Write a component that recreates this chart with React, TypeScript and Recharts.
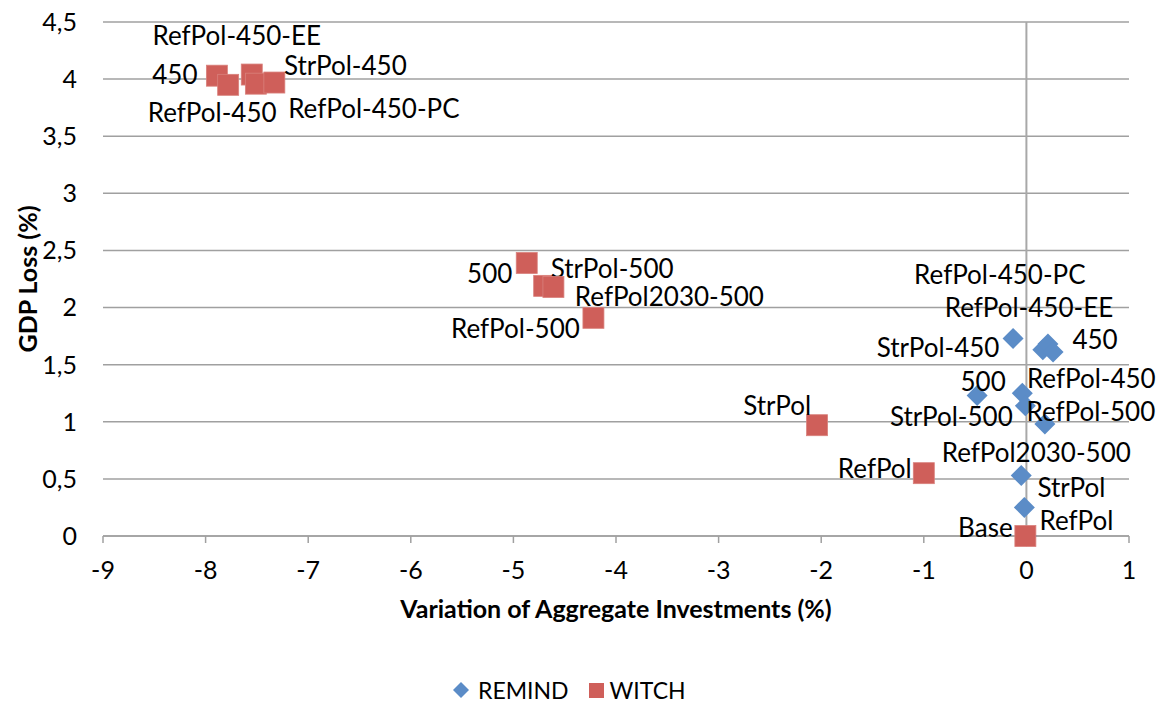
import React from 'react';
import { ScatterChart, Scatter, XAxis, YAxis, CartesianGrid, ReferenceLine } from 'recharts';

// REMIND scenarios
const remindNames = ['StrPol-450', 'RefPol-450-PC', 'RefPol-450-EE', '450', '500', 'RefPol-450', 'StrPol-500', 'RefPol-500', 'RefPol2030-500', 'StrPol', 'RefPol'];
const remindInvest = [-0.13, 0.16, 0.21, 0.26, -0.48, -0.04, -0.01, 0.18, -0.05, -0.02, 0.0];
const remindGdpLoss = [1.73, 1.63, 1.68, 1.61, 1.23, 1.25, 1.14, 0.98, 0.53, 0.25, 0.0];

// WITCH scenarios
const witchNames = ['450', 'RefPol-450', 'RefPol-450-EE', 'RefPol-450-PC', 'StrPol-450', '500', 'StrPol-500', 'RefPol2030-500', 'RefPol-500', 'StrPol', 'RefPol', 'Base'];
const witchInvest = [-7.89, -7.78, -7.55, -7.51, -7.33, -4.87, -4.7, -4.61, -4.22, -2.04, -1.0, -0.01];
const witchGdpLoss = [4.03, 3.95, 4.04, 3.96, 3.97, 2.39, 2.19, 2.18, 1.91, 0.97, 0.55, 0.0];

const xTicks = [-9, -8, -7, -6, -5, -4, -3, -2, -1, 0, 1];
const yTicks = [0, 0.5, 1, 1.5, 2, 2.5, 3, 3.5, 4, 4.5];

// where each data label sits relative to its marker (label placement only)
const remindLabelPos: Record<string, [number, number]> = {
  'StrPol-450': [-75, 9],
  'RefPol-450-PC': [-43, -76],
  'RefPol-450-EE': [-19, -37],
  '450': [42, -13],
  '500': [6, -15],
  'RefPol-450': [69, -15],
  'StrPol-500': [-74, 10],
  'RefPol-500': [46, -13],
  'RefPol2030-500': [15, -23],
  'StrPol': [47, -20],
  'RefPol': [50, -16],
};
const witchLabelPos: Record<string, [number, number]> = {
  '450': [-42, -2],
  'RefPol-450': [-16, 27],
  'RefPol-450-EE': [-15, -40],
  'RefPol-450-PC': [118, 24],
  'StrPol-450': [71, -18],
  '500': [-37, 10],
  'StrPol-500': [68, -18],
  'RefPol2030-500': [116, 9],
  'RefPol-500': [-78, 10],
  'StrPol': [-40, -20],
  'RefPol': [-49, -5],
  'Base': [-40, -9],
};

const remindData = remindNames.map((name, i) => ({ name, x: remindInvest[i], y: remindGdpLoss[i] }));
const witchData = witchNames.map((name, i) => ({ name, x: witchInvest[i], y: witchGdpLoss[i] }));

const BLUE = '#5B8CC7';
const RED = '#CF5F5A';
const FONT = 'Lato, "Open Sans", sans-serif';
const GRID = '#a0a0a0';

const labelText = (cx: number, cy: number, name: string, pos: Record<string, [number, number]>) => {
  const [dx, dy] = pos[name] || [0, 0];
  return (
    <text x={cx + dx} y={cy + dy} textAnchor="middle" dominantBaseline="central" fontSize={26} fontFamily={FONT} fill="#000">
      {name}
    </text>
  );
};

const Diamond = (props: any) => {
  const { cx, cy, payload } = props;
  const r = 10.5;
  return (
    <g>
      <polygon points={`${cx},${cy - r} ${cx + r},${cy} ${cx},${cy + r} ${cx - r},${cy}`} fill={BLUE} />
      {labelText(cx, cy, payload.name, remindLabelPos)}
    </g>
  );
};

const Square = (props: any) => {
  const { cx, cy, payload } = props;
  const s = 21;
  return (
    <g>
      <rect x={cx - s / 2} y={cy - s / 2} width={s} height={s} fill={RED} stroke="#d9817c" strokeWidth={0.8} />
      {labelText(cx, cy, payload.name, witchLabelPos)}
    </g>
  );
};

export default function App() {
  return (
    <div style={{ position: 'absolute', left: 0, top: 0, width: 1162, height: 702, background: '#fff', fontFamily: FONT }}>
      <ScatterChart width={1162} height={702} margin={{ top: 22, right: 33, left: 10, bottom: 126 }}>
        <CartesianGrid horizontal vertical={false} stroke={GRID} strokeWidth={1.5} />
        <XAxis
          type="number"
          dataKey="x"
          domain={[-9, 1]}
          ticks={xTicks}
          height={40}
          axisLine={{ stroke: GRID, strokeWidth: 1.5 }}
          tickLine={{ stroke: GRID, strokeWidth: 1.5 }}
          tickSize={7}
          tickMargin={18}
          tick={{ fill: '#000', fontSize: 25, fontFamily: FONT }}
          label={{ value: 'Variation of Aggregate Investments (%)', position: 'bottom', offset: 24, style: { fill: '#000', fontSize: 25, fontWeight: 700, fontFamily: FONT } }}
        />
        <YAxis
          type="number"
          dataKey="y"
          domain={[0, 4.5]}
          ticks={yTicks}
          width={93}
          axisLine={false}
          tickLine={false}
          tickSize={0}
          tickMargin={26}
          tickFormatter={(v: number) => String(v).replace('.', ',')}
          tick={{ fill: '#000', fontSize: 25, fontFamily: FONT }}
          label={{ value: 'GDP Loss (%)', angle: -90, position: 'insideLeft', offset: 18, style: { textAnchor: 'middle', fill: '#000', fontSize: 25, fontWeight: 700, fontFamily: FONT } }}
        />
        <ReferenceLine x={0} stroke="#a8a8a8" strokeWidth={2} />
        <Scatter name="REMIND" data={remindData} shape={Diamond} isAnimationActive={false} />
        <Scatter name="WITCH" data={witchData} shape={Square} isAnimationActive={false} />
      </ScatterChart>
      <div style={{ position: 'absolute', top: 680, left: 452, height: 20, display: 'flex', alignItems: 'center', fontSize: 23, color: '#000', lineHeight: '20px' }}>
        <svg width={18} height={18} style={{ marginRight: 8 }}>
          <polygon points="9,1 17,9 9,17 1,9" fill={BLUE} />
        </svg>
        <span>REMIND</span>
        <svg width={15} height={15} style={{ marginLeft: 20, marginRight: 6 }}>
          <rect x={0} y={0} width={15} height={15} fill={RED} />
        </svg>
        <span>WITCH</span>
      </div>
    </div>
  );
}
